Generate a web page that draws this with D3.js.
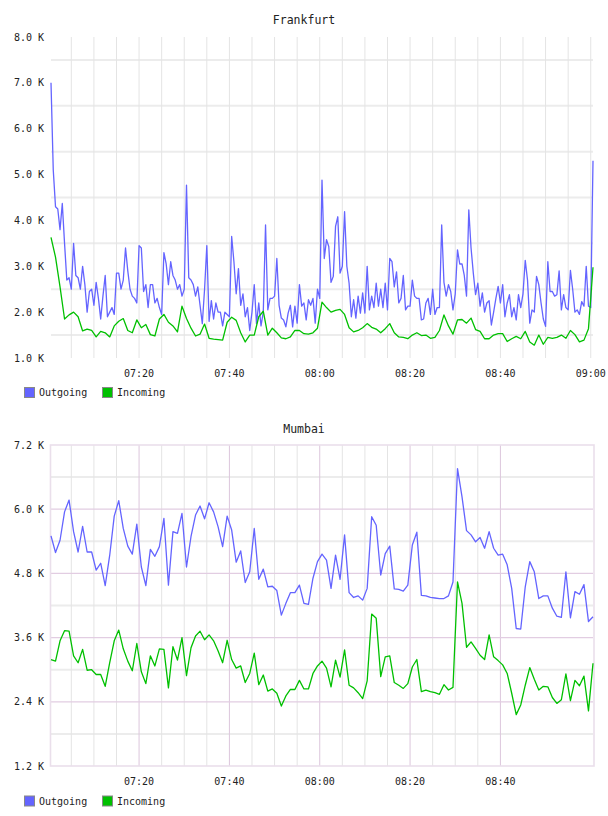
<!DOCTYPE html>
<html>
<head>
<meta charset="utf-8">
<script src="https://cdn.jsdelivr.net/npm/d3@7"></script>
<style>
  body { margin: 0; background: #fff; }
  text { font-family: "DejaVu Sans Mono", monospace; fill: #222; }
</style>
</head>
<body>
<svg id="chart" width="608" height="816"></svg>
<script>
var seriesNames = ["Outgoing", "Incoming"];
var seriesColors = ["#6464ff", "#00c000"];
var startTime = "07:00:30";
var endTime = "09:00:30";

// Frankfurt, K per sample; outgoing every 30 s, incoming every 60 s
var frankfurtOutgoing = [
  7.0, 5.1, 4.3, 4.25, 3.8, 4.37, 3.5, 2.7, 2.75, 2.5,
  3.5, 2.8, 2.75, 2.5, 3.0, 2.6, 2.0, 2.45, 2.5, 2.15,
  2.65, 2.3, 1.85, 2.35, 2.8, 1.9, 2.0, 2.1, 1.95, 2.85,
  2.85, 2.5, 2.7, 3.4, 2.9, 2.5, 2.35, 2.3, 2.2, 3.45,
  3.4, 2.45, 2.6, 2.1, 2.6, 2.6, 2.2, 2.3, 2.1, 1.95,
  3.3, 3.05, 2.6, 3.1, 2.8, 2.7, 2.5, 2.6, 2.35, 2.5,
  4.77, 2.75, 2.7, 2.6, 2.35, 2.55, 2.15, 1.75, 2.5, 3.45,
  1.8, 2.25, 1.85, 2.2, 2.0, 2.0, 1.7, 2.0, 1.95, 1.9,
  3.65, 3.1, 2.4, 2.95, 2.15, 2.4, 1.9, 2.1, 1.6, 2.0,
  2.6, 1.75, 2.2, 1.7, 2.0, 3.9, 2.05, 2.3, 2.3, 2.35,
  3.17, 2.15, 1.87, 1.83, 1.68, 1.98, 2.15, 1.68, 2.13, 1.76,
  2.6, 2.13, 2.2, 1.83, 2.27, 2.15, 2.3, 1.76, 2.5, 2.3,
  4.88, 3.17, 3.58, 3.43, 2.65, 2.78, 3.87, 4.08, 2.85, 3.0,
  4.19, 3.0, 2.63, 1.9, 2.27, 1.87, 2.35, 1.98, 2.42, 1.98,
  3.0, 2.05, 2.35, 2.1, 2.63, 2.13, 2.5, 2.1, 2.63, 2.05,
  3.17, 3.1, 2.55, 2.88, 2.2, 2.3, 2.8, 2.05, 2.13, 2.13,
  2.7, 2.35, 2.3, 2.3, 1.83, 1.85, 2.2, 2.3, 1.95, 2.5,
  1.95, 2.1, 2.1, 3.9, 2.65, 2.35, 2.6, 2.45, 2.05, 2.4,
  3.36, 3.05, 3.05, 2.8, 2.35, 4.23, 3.4, 2.85, 2.38, 2.63,
  2.13, 2.42, 2.0, 2.2, 2.25, 1.72, 2.0, 2.3, 2.56, 2.2,
  2.6, 1.9, 2.2, 2.38, 1.9, 2.1, 1.83, 2.38, 2.1, 2.4,
  3.13, 2.7, 1.76, 2.05, 2.0, 2.78, 2.6, 2.2, 1.85, 1.69,
  3.1, 2.45, 2.45, 2.35, 2.38, 2.9, 2.05, 2.38, 2.1, 2.05,
  2.91, 2.5, 2.0, 2.05, 1.95, 2.23, 2.13, 3.0, 2.13, 2.1,
  5.3
];
var frankfurtIncoming = [
  3.63, 3.2, 2.55, 1.85, 1.94, 2.0, 1.9, 1.59, 1.63, 1.6,
  1.46, 1.58, 1.55, 1.46, 1.7, 1.8, 1.86, 1.6, 1.55, 1.83,
  1.66, 1.73, 1.51, 1.48, 1.85, 1.95, 1.78, 1.7, 1.57, 2.13,
  1.86, 1.65, 1.48, 1.52, 1.74, 1.43, 1.41, 1.4, 1.39, 1.78,
  1.89, 1.82, 1.55, 1.35, 1.5, 1.5, 1.9, 2.02, 1.5, 1.65,
  1.55, 1.44, 1.42, 1.46, 1.6, 1.6, 1.53, 1.52, 1.55, 1.65,
  2.22, 2.1, 2.0, 2.04, 2.06, 1.95, 1.66, 1.57, 1.6, 1.66,
  1.75, 1.67, 1.63, 1.55, 1.64, 1.75, 1.55, 1.46, 1.45, 1.42,
  1.5, 1.55, 1.49, 1.5, 1.43, 1.45, 1.6, 1.94, 1.7, 1.52,
  1.83, 1.84, 1.76, 1.87, 1.62, 1.58, 1.42, 1.42, 1.5, 1.53,
  1.53, 1.36, 1.42, 1.47, 1.42, 1.58, 1.35, 1.28, 1.5, 1.3,
  1.45, 1.43, 1.45, 1.5, 1.43, 1.6, 1.51, 1.35, 1.39, 1.64,
  2.98
];

// Mumbai, K per sample, every 60 s
var mumbaiOutgoing = [
  5.5, 5.19, 5.42, 5.95, 6.17, 5.58, 5.2, 5.68, 5.2, 5.2,
  4.86, 4.99, 4.57, 5.14, 5.87, 6.16, 5.64, 5.31, 5.16, 5.72,
  4.92, 4.57, 5.25, 5.12, 5.3, 5.83, 4.58, 5.58, 5.55, 5.92,
  4.92, 5.49, 5.89, 6.06, 5.82, 6.12, 5.95, 5.67, 5.3, 5.87,
  5.61, 5.01, 5.22, 4.63, 4.83, 5.64, 4.69, 4.88, 4.55, 4.56,
  4.48, 4.02, 4.24, 4.44, 4.44, 4.58, 4.24, 4.22, 4.71, 5.02,
  5.16, 5.05, 4.52, 5.14, 4.69, 5.52, 4.44, 4.35, 4.38, 4.3,
  4.52, 5.86, 5.7, 4.77, 5.17, 5.31, 4.51, 4.5, 4.47, 4.58,
  5.33, 5.57, 4.39, 4.38, 4.35, 4.34, 4.33, 4.33, 4.38, 4.64,
  6.76, 6.23, 5.6, 5.52, 5.39, 5.47, 5.27, 5.58, 5.27, 5.14,
  5.16, 4.96, 4.52, 3.77, 3.76, 4.55, 5.02, 4.83, 4.33, 4.38,
  4.38, 4.15, 4.0, 3.98, 4.83, 3.97, 4.46, 4.41, 4.59, 3.9,
  3.99
];
var mumbaiIncoming = [
  3.19, 3.16, 3.54, 3.73, 3.72, 3.26, 3.13, 3.38, 2.99, 3.0,
  2.91, 2.91, 2.69, 3.13, 3.54, 3.74, 3.39, 3.16, 2.98, 3.49,
  2.96, 2.74, 3.26, 3.07, 3.39, 3.38, 2.66, 3.43, 3.18, 3.6,
  2.89, 3.41, 3.63, 3.72, 3.56, 3.65, 3.54, 3.35, 3.13, 3.55,
  3.19, 3.03, 3.07, 2.76, 2.93, 3.31, 2.72, 2.9, 2.6, 2.64,
  2.56, 2.32, 2.51, 2.63, 2.63, 2.8, 2.64, 2.64, 2.93, 3.07,
  3.16, 3.03, 2.68, 3.18, 2.86, 3.37, 2.71, 2.66, 2.57, 2.46,
  2.79, 4.04, 3.96, 2.87, 3.24, 3.26, 2.76, 2.71, 2.65, 2.74,
  3.05, 3.19, 2.59, 2.62, 2.59, 2.57, 2.54, 2.72, 2.62, 2.67,
  4.64, 4.24, 3.42, 3.52, 3.4, 3.27, 3.19, 3.65, 3.24, 3.17,
  3.09, 2.93, 2.56, 2.16, 2.34, 2.71, 3.04, 2.82, 2.62, 2.69,
  2.68, 2.48, 2.37, 2.44, 2.92, 2.42, 2.8, 2.7, 2.88, 2.23,
  3.12
];

var frankfurtYTicks = [1, 2, 3, 4, 5, 6, 7, 8];
var frankfurtYGrid = [1.5, 2.5, 3.5, 4.5, 5.5, 6.5, 7.5];
var mumbaiYTicks = [1.2, 2.4, 3.6, 4.8, 6.0, 7.2];
var mumbaiYGrid = [1.8, 3.0, 4.2, 5.4, 6.6];
var frankfurtXTicks = ["07:20", "07:40", "08:00", "08:20", "08:40", "09:00"];
var mumbaiXTicks = ["07:20", "07:40", "08:00", "08:20", "08:40"];

const parseHMS = d3.timeParse("%H:%M:%S");
const parseHM = d3.timeParse("%H:%M");
const svg = d3.select("#chart");
const left = 51, right = 593;

const x = d3.scaleTime()
    .domain([parseHMS(startTime), parseHMS(endTime)])
    .range([left, right]);

function toPoints(values, stepSec) {
    var t0 = parseHMS(startTime);
    return values.map((v, i) => ({ t: d3.timeSecond.offset(t0, i * stepSec), v: v }));
}

function drawChart(o) {
    const g = svg.append("g");
    const y = d3.scaleLinear().domain(o.yDomain).range([o.bottom, o.top]);
    const labelTimes = o.xTicks.map(parseHM);
    const lastTick = labelTimes[labelTimes.length - 1];
    const minorTimes = x.ticks(d3.timeMinute.every(5)).filter(t => t <= lastTick || !o.framed);

    // title
    g.append("text")
        .attr("x", 304).attr("y", o.titleY)
        .attr("text-anchor", "middle").attr("dy", "0.35em")
        .style("font-size", "11.5px")
        .text(o.title);

    // horizontal grid
    g.selectAll(".hgrid").data(o.yGrid).enter().append("line")
        .attr("x1", left).attr("x2", right)
        .attr("y1", d => y(d)).attr("y2", d => y(d))
        .attr("stroke", "#ececec").attr("stroke-width", 2);

    // vertical grid
    g.selectAll(".vgrid").data(minorTimes).enter().append("line")
        .attr("x1", d => x(d)).attr("x2", d => x(d))
        .attr("y1", o.top).attr("y2", o.bottom)
        .attr("stroke", d => (o.framed && labelTimes.some(t => +t === +d)) ? "#dcc6dc" : "#e4e4e4")
        .attr("stroke-width", 1);

    if (o.framed) {
        g.selectAll(".hmajor").data(o.yTicks.slice(1, -1)).enter().append("line")
            .attr("x1", left).attr("x2", right)
            .attr("y1", d => y(d)).attr("y2", d => y(d))
            .attr("stroke", "#e2cde2").attr("stroke-width", 1.2);
        g.append("rect")
            .attr("x", left - 0.5).attr("y", o.top)
            .attr("width", right - left + 1.5).attr("height", o.bottom - o.top)
            .attr("fill", "none").attr("stroke", "#eadfeb").attr("stroke-width", 1.6);
    }

    // y labels
    g.selectAll(".ylab").data(o.yTicks).enter().append("text")
        .attr("x", 44).attr("y", d => y(d)).attr("dy", "0.35em")
        .attr("text-anchor", "end")
        .style("font-size", "10px")
        .text(d => d3.format(".1f")(d) + " K");

    // x labels
    g.selectAll(".xlab").data(labelTimes).enter().append("text")
        .attr("x", d => x(d)).attr("y", o.bottom + 15).attr("dy", "0.35em")
        .attr("text-anchor", "middle")
        .style("font-size", "10px")
        .text(d3.timeFormat("%H:%M"));

    // series
    const line = d3.line().x(d => x(d.t)).y(d => y(d.v));
    o.series.forEach((s, i) => {
        g.append("path")
            .datum(s)
            .attr("fill", "none")
            .attr("stroke", seriesColors[i])
            .attr("stroke-width", 1.3)
            .attr("stroke-linejoin", "round")
            .attr("d", line);
    });

    // legend
    const legendX = [24, 102];
    seriesNames.forEach((name, i) => {
        g.append("rect")
            .attr("x", legendX[i] + 0.5).attr("y", o.legendY - 4.5)
            .attr("width", 10).attr("height", 10)
            .attr("fill", seriesColors[i])
            .attr("stroke", "#888").attr("stroke-width", 1);
        g.append("text")
            .attr("x", legendX[i] + 15).attr("y", o.legendY + 0.5).attr("dy", "0.35em")
            .style("font-size", "10px")
            .text(name);
    });
}

drawChart({
    title: "Frankfurt", titleY: 20,
    top: 37, bottom: 358,
    yDomain: [1, 8], yTicks: frankfurtYTicks, yGrid: frankfurtYGrid,
    xTicks: frankfurtXTicks, framed: false,
    series: [toPoints(frankfurtOutgoing, 30), toPoints(frankfurtIncoming, 60)],
    legendY: 392
});

drawChart({
    title: "Mumbai", titleY: 428.5,
    top: 445, bottom: 766,
    yDomain: [1.2, 7.2], yTicks: mumbaiYTicks, yGrid: mumbaiYGrid,
    xTicks: mumbaiXTicks, framed: true,
    series: [toPoints(mumbaiOutgoing, 60), toPoints(mumbaiIncoming, 60)],
    legendY: 800.5
});
</script>
</body>
</html>
